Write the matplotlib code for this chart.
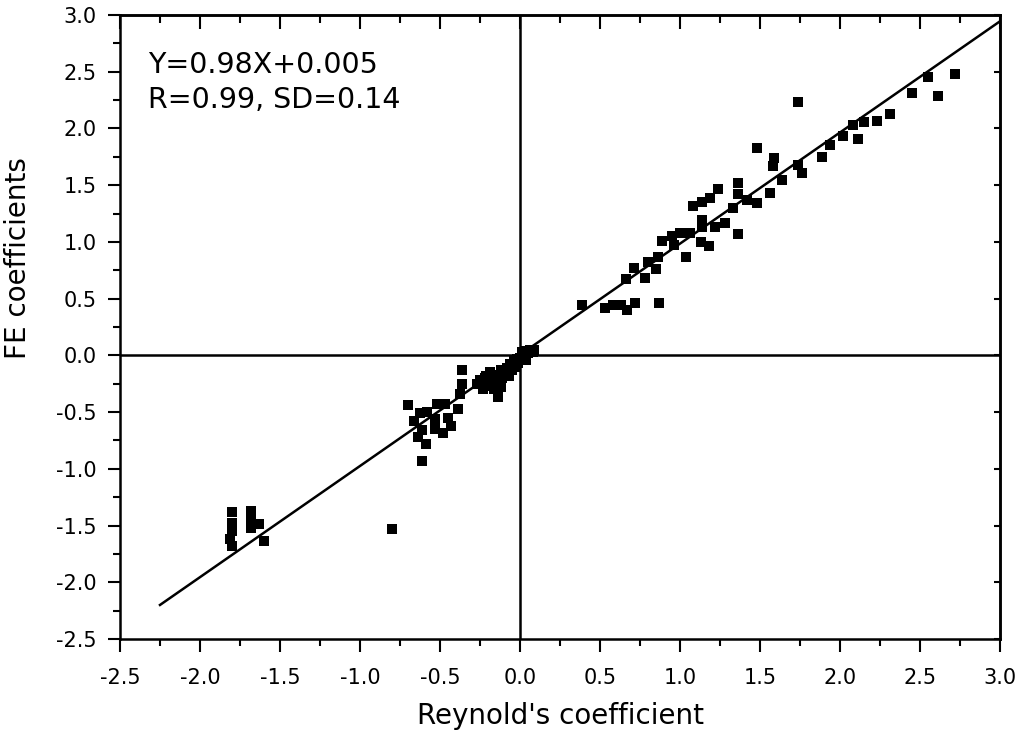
import numpy as np
import matplotlib
matplotlib.use("Agg")
import matplotlib.pyplot as plt
from matplotlib.ticker import MultipleLocator

# Reynold's coefficient (x) vs FE coefficient (y)
x_pos = [2.72, 2.55, 2.61, 2.45, 2.31, 2.23, 2.15, 2.08, 2.11, 2.02, 1.94, 1.89,
         1.74, 1.74, 1.76, 1.64, 1.48, 1.59, 1.58, 1.56, 1.48, 1.42, 1.36, 1.36,
         1.36, 1.33, 1.28, 1.22, 1.24, 1.19, 1.14, 1.08, 1.14, 1.14, 1.18, 1.13,
         1.06, 1.00, 0.95, 0.96, 0.89, 1.04, 0.86, 0.80, 0.85, 0.78, 0.71, 0.66,
         0.87, 0.72, 0.67, 0.63, 0.58, 0.53, 0.39]
y_pos = [2.48, 2.45, 2.29, 2.31, 2.13, 2.07, 2.06, 2.03, 1.91, 1.93, 1.85, 1.75,
         2.23, 1.68, 1.61, 1.55, 1.83, 1.74, 1.67, 1.43, 1.34, 1.37, 1.52, 1.42,
         1.07, 1.30, 1.17, 1.13, 1.47, 1.39, 1.35, 1.32, 1.19, 1.13, 0.96, 1.00,
         1.08, 1.08, 1.05, 0.97, 1.01, 0.87, 0.87, 0.82, 0.76, 0.68, 0.77, 0.67,
         0.46, 0.46, 0.40, 0.44, 0.44, 0.42, 0.44]

x_zero = [-0.27, -0.25, -0.23, -0.21, -0.20, -0.19, -0.17, -0.16, -0.14, -0.15,
          -0.13, -0.12, -0.11, -0.10, -0.08, -0.07, -0.06, -0.05, -0.04, -0.03,
          -0.02, 0.00, 0.02, 0.03, 0.05, 0.06, 0.08, 0.09, 0.04, -0.01,
          -0.22, -0.18, -0.09, -0.12, 0.01]
y_zero = [-0.25, -0.22, -0.30, -0.18, -0.27, -0.15, -0.22, -0.30, -0.37, -0.17,
          -0.25, -0.13, -0.20, -0.16, -0.11, -0.18, -0.08, -0.13, -0.05, -0.10,
          -0.03, -0.02, 0.00, 0.04, 0.02, 0.05, 0.03, 0.05, -0.04, -0.07,
          -0.20, -0.24, -0.14, -0.28, 0.03]

x_neg = [-0.70, -0.52, -0.47, -0.39, -0.625, -0.66, -0.58, -0.53, -0.45, -0.43,
         -0.48, -0.53, -0.64, -0.59, -0.61, -0.61, -0.36, -0.36, -0.375]
y_neg = [-0.44, -0.43, -0.43, -0.47, -0.51, -0.58, -0.50, -0.56, -0.55, -0.62,
         -0.68, -0.65, -0.72, -0.78, -0.66, -0.93, -0.13, -0.25, -0.34]

x_low = [-1.80, -1.80, -1.80, -1.81, -1.80, -1.68, -1.68, -1.68, -1.63, -1.60, -0.80]
y_low = [-1.38, -1.48, -1.55, -1.62, -1.68, -1.37, -1.45, -1.52, -1.49, -1.64, -1.53]

# fit Y = 0.98X + 0.005
slope, intercept = 0.98, 0.005
fit_x = [-2.25, 3.0]

xs = x_pos + x_zero + x_neg + x_low
ys = y_pos + y_zero + y_neg + y_low

fig = plt.figure(figsize=(10.3, 7.4), dpi=100)
ax = fig.add_axes([0.1165, 0.1365, 0.8544, 0.8432])

ax.axhline(0, color='black', lw=1.8, zorder=1)
ax.axvline(0, color='black', lw=1.8, zorder=1)
fx = np.array(fit_x)
ax.plot(fx, slope * fx + intercept, color='black', lw=1.8, zorder=2)
ax.plot(xs, ys, 's', color='black', markersize=7, markeredgewidth=0, zorder=3)

ax.set_xlim(-2.5, 3.0)
ax.set_ylim(-2.5, 3.0)
ax.xaxis.set_major_locator(MultipleLocator(0.5))
ax.yaxis.set_major_locator(MultipleLocator(0.5))
ax.xaxis.set_minor_locator(MultipleLocator(0.25))
ax.yaxis.set_minor_locator(MultipleLocator(0.25))
ax.xaxis.set_major_formatter(lambda v, p: f"{v:.1f}")
ax.yaxis.set_major_formatter(lambda v, p: f"{v:.1f}")

for s in ax.spines.values():
    s.set_linewidth(1.8)

# bottom/left ticks point outward, top/right inward
ax.tick_params(which='both', bottom=True, left=True, top=False, right=False,
               direction='out', width=1.5, labelsize=15)
ax.tick_params(which='major', length=9)
ax.tick_params(which='minor', length=5)
ax.tick_params(axis='x', pad=12)
ax.tick_params(axis='y', pad=8)
ax2 = ax.secondary_xaxis('top')
ax2.xaxis.set_major_locator(MultipleLocator(0.5))
ax2.xaxis.set_minor_locator(MultipleLocator(0.25))
ax2.tick_params(which='both', direction='in', width=1.5, labeltop=False)
ax2.tick_params(which='major', length=10)
ax2.tick_params(which='minor', length=6)
ax2.spines['top'].set_linewidth(1.8)
ay2 = ax.secondary_yaxis('right')
ay2.yaxis.set_major_locator(MultipleLocator(0.5))
ay2.yaxis.set_minor_locator(MultipleLocator(0.25))
ay2.tick_params(which='both', direction='in', width=1.5, labelright=False)
ay2.tick_params(which='major', length=4)
ay2.tick_params(which='minor', length=0)
ay2.spines['right'].set_linewidth(1.8)

ax.set_xlabel("Reynold's coefficient", fontsize=20, labelpad=10)
ax.set_ylabel("FE coefficients", fontsize=20)
ax.yaxis.set_label_coords(-0.10, 0.61)

ax.text(0.032, 0.907, "Y=0.98X+0.005", transform=ax.transAxes,
        fontsize=20.5, va='baseline', ha='left')
ax.text(0.032, 0.851, "R=0.99, SD=0.14", transform=ax.transAxes,
        fontsize=20.5, va='baseline', ha='left')

fig.savefig("out.png", dpi=100)
